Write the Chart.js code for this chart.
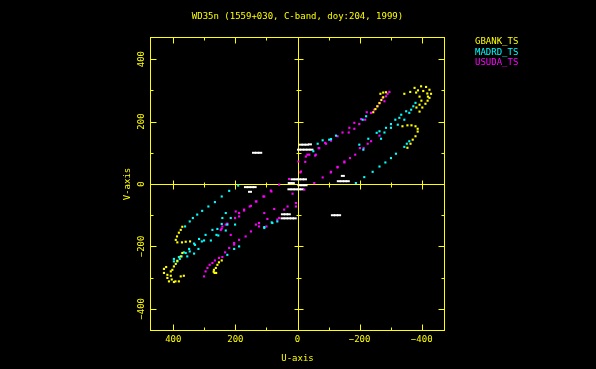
<!DOCTYPE html>
<html>
<head>
<meta charset="utf-8">
<script src="https://cdn.jsdelivr.net/npm/chart.js@4/dist/chart.umd.min.js"></script>
<style>
  html, body { margin: 0; padding: 0; background: #000; }
</style>
</head>
<body>
<canvas id="uv_plot" width="596" height="369"></canvas>
<script>
// ----------------------- data --------------------------------------------//

var chartTitle = 'WD35n (1559+030, C-band, doy:204, 1999)';
var seriesNames = ['GBANK_TS', 'MADRD_TS', 'USUDA_TS'];
var seriesColors = ['#ffff00', '#00ffff', '#ff00ff'];
var uTicks = [400, 200, 0, -200, -400];
var vTicks = [400, 200, 0, -200, -400];

// [u, v] pairs
var gbankTs = [
  [-363, 295], [-344, 289], [-377, 308], [-398, 313], [-414, 311], [-425, 302], [-430, 289],
  [-425, 276], [-419, 267], [-412, 257], [-402, 245], [-393, 232], [-382, 293], [-393, 280],
  [-399, 267], [-393, 254], [-383, 245], [-388, 300], [-405, 298], [-418, 290], [-420, 280],
  [-338, 185], [-354, 188], [-367, 188], [-380, 185], [-387, 177], [-387, 168], [-380, 153],
  [-371, 142], [-364, 129], [-354, 116],
  [-267, 289], [-276, 293], [-285, 294], [-276, 278], [-270, 269], [-264, 259], [-257, 249],
  [-251, 240], [-244, 230],
  [371, -221], [376, -232], [387, -246], [392, -256], [398, -264], [403, -275], [408, -280],
  [430, -272], [423, -266], [430, -285], [419, -291], [408, -294], [419, -301], [414, -312],
  [398, -314], [382, -312], [366, -294], [376, -296], [393, -312], [405, -306],
  [371, -137], [376, -147], [382, -156], [388, -168], [392, -179], [387, -187], [372, -187],
  [360, -185], [346, -184],
  [244, -245], [253, -251], [258, -259], [263, -269], [269, -275], [270, -281], [267, -285],
  [262, -285]
];

var madrdTs = [
  [-51, 105], [-65, 129], [-102, 142], [-124, 155], [-199, 126], [-212, 110], [-210, 206],
  [-221, 217], [-228, 145], [-255, 164], [-269, 145], [-264, 169], [-280, 165], [-285, 180],
  [-301, 192], [-301, 180], [-315, 206], [-323, 190], [-328, 212], [-334, 222], [-344, 206],
  [-350, 233], [-360, 228], [-366, 238], [-373, 249], [-380, 260], [-108, 144], [-81, 140],
  [-188, 3], [-215, 22], [-242, 39], [-264, 56], [-283, 69], [-301, 83], [-317, 97],
  [-344, 119], [-352, 129], [-360, 137],
  [191, -5], [220, -22], [244, -40], [266, -58], [287, -72], [307, -86], [323, -98],
  [337, -109], [347, -120], [362, -136],
  [65, -120], [81, -125], [107, -141], [188, -200], [204, -208], [226, -227], [201, -130],
  [215, -109], [231, -93], [242, -109], [226, -130], [244, -128], [231, -149], [261, -163],
  [255, -165], [274, -147], [258, -144], [279, -181], [296, -163], [301, -181], [308, -184],
  [317, -176], [330, -195], [319, -208], [333, -191], [349, -208], [347, -216], [360, -221],
  [366, -219], [333, -223], [355, -232], [373, -232], [382, -234], [379, -240], [387, -248],
  [398, -240], [398, -248], [107, -138], [83, -123]
];

var usudaTs = [
  [-296, 295], [-290, 289], [-285, 281], [-274, 276], [-280, 265], [-264, 260], [-258, 249],
  [-247, 238], [-237, 228], [-223, 230], [-218, 206], [-205, 208], [-199, 192], [-183, 196],
  [-183, 177], [-167, 180], [-165, 165], [-145, 165], [-129, 153], [-108, 139], [-92, 129],
  [-68, 115], [-57, 91], [-38, 94], [-25, 71], [-11, 40], [-89, 132], [-59, 94], [-32, 94],
  [-3, 72], [-9, 37], [-70, 115], [-27, 88],
  [-54, 3], [-81, 21], [-108, 39], [-129, 55], [-151, 69], [-169, 83], [-186, 94], [-201, 115],
  [-213, 115], [-226, 129], [-237, 137], [-264, 155], [-151, 72], [-129, 53], [-107, 37],
  [27, 16], [59, -2], [84, -24], [-22, -18], [5, -61], [16, -31], [5, -72],
  [301, -296], [296, -280], [290, -269], [283, -259], [274, -253], [266, -245], [253, -237],
  [242, -234], [233, -219], [220, -205], [204, -194], [188, -179], [167, -168], [150, -152],
  [134, -130], [124, -125], [107, -93], [75, -80], [100, -136], [124, -136], [97, -112],
  [65, -114], [59, -109], [43, -82], [32, -72], [204, -189], [215, -163],
  [86, -21], [107, -40], [134, -56], [150, -70], [172, -82], [188, -93], [201, -109],
  [226, -127], [242, -136], [244, -143], [247, -147], [231, -130], [199, -88], [110, -40],
  [132, -56], [154, -72], [172, -85], [188, -104]
];

// unlabelled white dashes near the centre
var otherPts = [
  [140, 100], [130, 100], [120, 100],
  [-10, 126], [-20, 126], [-30, 126], [-40, 127],
  [-5, 110], [-15, 110], [-25, 110], [-35, 110], [-45, 110],
  [16, 15], [6, 15], [-4, 15], [-14, 15], [-24, 15],
  [25, 3], [15, 3],
  [-6, -4], [-16, -4], [-26, -4],
  [26, -17], [16, -17], [6, -17], [-4, -17], [-14, -17],
  [166, -10], [156, -10], [146, -10], [138, -10],
  [153, -25], [-146, 26],
  [-133, 9], [-143, 9], [-153, 9], [-162, 9],
  [48, -110], [38, -110], [28, -110], [18, -110], [9, -110],
  [47, -97], [37, -97], [28, -97],
  [-114, -100], [-124, -100], [-134, -100]
];

// ----------------------- chart --------------------------------------------//

var YEL = '#ffff00';
var FONT = '9px "DejaVu Sans Mono"';

function toPts(arr) {
  return arr.map(function (p) { return { x: p[0], y: p[1] }; });
}

function fmt(t) {
  return t < 0 ? '\u2212' + (-t) : String(t);
}

var pgplotFrame = {
  id: 'pgplotFrame',
  beforeDraw: function (chart) {
    var c = chart.ctx;
    c.save();
    c.fillStyle = '#000';
    c.fillRect(0, 0, chart.width, chart.height);
    c.restore();
  },
  beforeDatasetsDraw: function (chart) {
    var c = chart.ctx, a = chart.chartArea, sx = chart.scales.x, sy = chart.scales.y;
    var L = Math.round(a.left) + 0.5, R = Math.round(a.right) - 0.5;
    var T = Math.round(a.top) + 0.5, B = Math.round(a.bottom) - 0.5;
    var x0 = Math.round(sx.getPixelForValue(0)) + 0.5;
    var y0 = Math.round(sy.getPixelForValue(0)) + 0.5;
    c.save();
    c.strokeStyle = YEL;
    c.lineWidth = 1;
    c.strokeRect(L, T, R - L, B - T);
    c.beginPath();
    c.moveTo(x0, T); c.lineTo(x0, B);
    c.moveTo(L, y0); c.lineTo(R, y0);
    for (var t = -400; t <= 400; t += 100) {
      var major = t % 200 === 0;
      var px = Math.round(sx.getPixelForValue(t)) + 0.5;
      var py = Math.round(sy.getPixelForValue(t)) + 0.5;
      var f = major ? 6 : 3, z = major ? 4 : 2;
      c.moveTo(px, B); c.lineTo(px, B - f);
      c.moveTo(px, T); c.lineTo(px, T + f);
      c.moveTo(L, py); c.lineTo(L + f, py);
      c.moveTo(R, py); c.lineTo(R - f, py);
      if (t !== 0) {
        c.moveTo(px, y0 - z); c.lineTo(px, y0 + z + 1);
        c.moveTo(x0 - z, py); c.lineTo(x0 + z + 1, py);
      }
    }
    c.stroke();
    c.restore();
  },
  afterDraw: function (chart) {
    var c = chart.ctx, a = chart.chartArea, sx = chart.scales.x, sy = chart.scales.y;
    c.save();
    c.font = FONT;
    c.fillStyle = YEL;
    c.textAlign = 'center';
    c.textBaseline = 'middle';
    c.fillText(chartTitle, (a.left + a.right) / 2, a.top - 20);
    uTicks.forEach(function (t) {
      c.fillText(fmt(t), sx.getPixelForValue(t), a.bottom + 9);
    });
    c.fillText('U-axis', (a.left + a.right) / 2, a.bottom + 28);
    vTicks.forEach(function (t) {
      c.save();
      c.translate(a.left - 8, sy.getPixelForValue(t));
      c.rotate(-Math.PI / 2);
      c.fillText(fmt(t), 0, 0);
      c.restore();
    });
    c.save();
    c.translate(a.left - 22, (a.top + a.bottom) / 2);
    c.rotate(-Math.PI / 2);
    c.fillText('V-axis', 0, 0);
    c.restore();
    // legend
    c.textAlign = 'left';
    seriesNames.forEach(function (n, i) {
      c.fillStyle = seriesColors[i];
      c.fillText(n, 475, 42 + i * 10.5);
    });
    c.restore();
  }
};

function pointSet(label, arr, color) {
  return {
    label: label,
    data: toPts(arr),
    backgroundColor: color,
    borderWidth: 0,
    pointStyle: 'rect',
    pointRadius: 1.5,
    pointHoverRadius: 1.5
  };
}

var whiteSet = {
  label: 'other',
  data: toPts(otherPts),
  borderColor: '#ffffff',
  backgroundColor: '#ffffff',
  borderWidth: 2,
  pointStyle: 'line',
  pointRadius: 2
};

var ctx = document.getElementById('uv_plot').getContext('2d');
var uv_plot = new Chart(ctx, {
  type: 'scatter',
  data: {
    datasets: [
      pointSet(seriesNames[0], gbankTs, seriesColors[0]),
      pointSet(seriesNames[1], madrdTs, seriesColors[1]),
      pointSet(seriesNames[2], usudaTs, seriesColors[2]),
      whiteSet
    ]
  },
  options: {
    responsive: false,
    animation: false,
    devicePixelRatio: 1,
    layout: { padding: { left: 150, right: 151, top: 37, bottom: 38 } },
    plugins: { legend: { display: false }, tooltip: { enabled: false } },
    scales: {
      x: { type: 'linear', min: -475, max: 475, reverse: true, display: false },
      y: { type: 'linear', min: -471, max: 471, display: false }
    }
  },
  plugins: [pgplotFrame]
});
</script>
</body>
</html>
